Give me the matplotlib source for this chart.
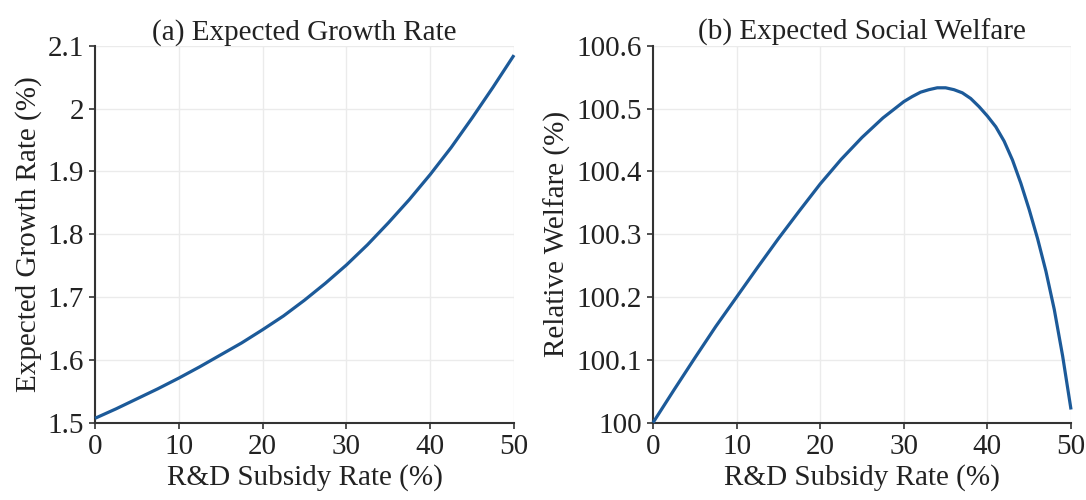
import matplotlib
matplotlib.use("Agg")
import matplotlib.pyplot as plt
from matplotlib.ticker import FuncFormatter

plt.rcParams['font.family'] = ['Liberation Serif', 'DejaVu Serif']

# valeurs
subsidy_growth = [0, 2.5, 5, 7.5, 10, 12.5, 15, 17.5, 20, 22.5, 25, 27.5, 30,
                  32.5, 35, 37.5, 40, 42.5, 45, 47.5, 50]
growth_rate = [1.507, 1.522, 1.538, 1.554, 1.571, 1.589, 1.608, 1.627, 1.648,
               1.670, 1.695, 1.722, 1.751, 1.783, 1.818, 1.855, 1.895, 1.938,
               1.985, 2.034, 2.085]

subsidy_welfare = [0, 2.5, 5, 7.5, 10, 12.5, 15, 17.5, 20, 22.5, 25, 27.5, 30,
                   31, 32, 33, 34, 35, 36, 37, 38, 39, 40, 41, 42, 43, 44,
                   45, 46, 47, 48, 49, 50]
welfare = [100.0, 100.052, 100.103, 100.153, 100.200, 100.247, 100.293,
           100.337, 100.380, 100.419, 100.454, 100.485, 100.511, 100.519,
           100.526, 100.530, 100.533, 100.533, 100.530, 100.525, 100.516,
           100.503, 100.488, 100.471, 100.448, 100.418, 100.381, 100.339,
           100.293, 100.241, 100.180, 100.106, 100.021]

x_ticks = [0, 10, 20, 30, 40, 50]
growth_ticks = [1.5, 1.6, 1.7, 1.8, 1.9, 2.0, 2.1]
welfare_ticks = [100.0, 100.1, 100.2, 100.3, 100.4, 100.5, 100.6]

couleur = '#1c5a99'
fmt = FuncFormatter(lambda v, p: f"{v:g}" if abs(v - round(v)) > 1e-9 else f"{int(round(v))}")

fig = plt.figure(figsize=(10.86, 5.0), dpi=100)
ax1 = fig.add_axes([0.0875, 0.1546, 0.3858, 0.7540])
ax2 = fig.add_axes([0.6013, 0.1546, 0.3849, 0.7540])

panneaux = [
    (ax1, subsidy_growth, growth_rate, growth_ticks, "(a) Expected Growth Rate", "Expected Growth Rate (%)"),
    (ax2, subsidy_welfare, welfare, welfare_ticks, "(b) Expected Social Welfare", "Relative Welfare (%)"),
]

for ax, xs, ys, yt, titre, ylab in panneaux:
    ax.plot(xs, ys, color=couleur, linewidth=2.3, solid_capstyle='butt',
            solid_joinstyle='round', clip_on=False, zorder=3)
    ax.set_xlim(0, 50)
    ax.set_ylim(yt[0], yt[-1])
    ax.set_xticks(x_ticks)
    ax.set_yticks(yt)
    ax.yaxis.set_major_formatter(fmt)
    ax.grid(True, color='#ebebeb', linewidth=1.0, zorder=0)
    ax.set_axisbelow(True)
    for s in ['top', 'right']:
        ax.spines[s].set_visible(False)
    for s in ['left', 'bottom']:
        ax.spines[s].set_color('#333333')
        ax.spines[s].set_linewidth(1.5)
    ax.tick_params(direction='out', length=4, width=1.2, color='#333333',
                   labelsize=21, labelcolor='#222222', pad=4)
    ax.set_title(titre, fontsize=21, color='#222222', pad=4)
    ax.set_xlabel("R&D Subsidy Rate (%)", fontsize=21, color='#222222', labelpad=3)
    ax.set_ylabel(ylab, fontsize=21, color='#222222', labelpad=4)

fig.savefig("out.png", dpi=100)
